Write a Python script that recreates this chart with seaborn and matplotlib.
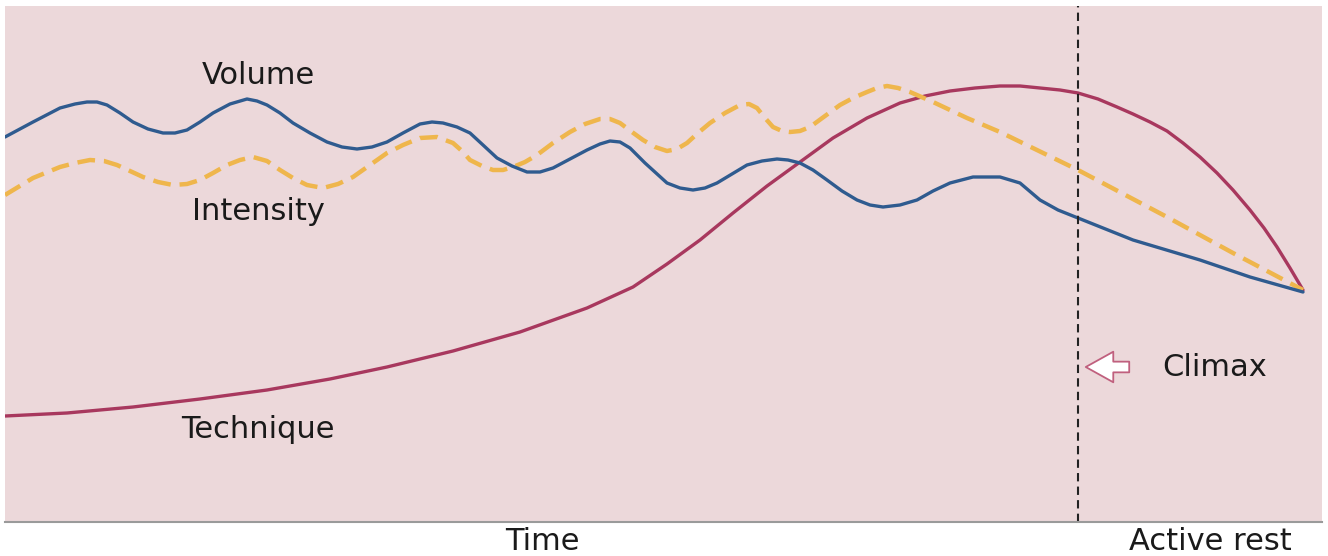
import pandas as pd
import matplotlib
matplotlib.use("Agg")
import matplotlib.pyplot as plt
import seaborn as sns

# --------------------------
# Curve values (time, level)
# --------------------------
vol_time = [5, 33, 60, 75, 87, 97, 107, 120, 133, 148, 163, 175, 187, 200, 213, 230,
            247, 257, 267, 280, 293, 310, 327, 342, 357, 372, 387, 403, 420, 432,
            443, 457, 470, 483, 497, 512, 527, 540, 553, 570, 587, 600, 610, 620,
            630, 645, 667, 680, 693, 705, 717, 732, 747, 762, 777, 788, 800, 813,
            827, 842, 857, 870, 883, 900, 917, 933, 950, 973, 1000, 1020, 1040,
            1058, 1078, 1133, 1200, 1250, 1303]
vol_level = [385, 400, 414, 418, 420, 420, 417, 409, 400, 393, 389, 389, 392, 400, 409, 418,
             423, 421, 417, 409, 399, 389, 380, 375, 373, 375, 380, 389, 398, 400,
             399, 395, 389, 377, 364, 356, 350, 350, 354, 363, 372, 378, 381, 380,
             374, 359, 339, 334, 332, 334, 339, 348, 357, 361, 363, 362, 359, 352,
             342, 331, 322, 317, 315, 317, 322, 331, 339, 345, 345, 339, 322,
             312, 304, 282, 262, 245, 230]

int_time = [5, 33, 60, 75, 90, 104, 117, 130, 143, 158, 173, 187, 200, 213, 227, 240,
            253, 267, 280, 293, 307, 323, 338, 353, 370, 387, 403, 420, 437, 453,
            462, 470, 482, 493, 503, 513, 525, 537, 553, 570, 585, 600, 610, 620,
            632, 643, 655, 667, 677, 687, 698, 710, 725, 740, 749, 757, 765, 773,
            782, 790, 800, 810, 825, 840, 853, 867, 877, 887, 898, 910, 933, 967,
            1000, 1078, 1167, 1233, 1303]
int_level = [327, 344, 355, 359, 362, 361, 357, 351, 345, 340, 337, 338, 342, 349, 357, 362,
             365, 361, 352, 344, 337, 334, 338, 345, 357, 369, 377, 384, 385, 379,
             371, 362, 356, 352, 352, 355, 360, 367, 379, 390, 398, 403, 403, 399,
             390, 382, 375, 371, 373, 379, 389, 399, 409, 417, 418, 414, 404, 395,
             391, 390, 391, 395, 406, 417, 424, 430, 434, 436, 434, 430, 420, 404,
             390, 352, 305, 269, 232]

tech_time = [5, 67, 133, 200, 267, 330, 387, 453, 520, 587, 633, 667, 700, 733, 767,
             800, 833, 867, 900, 925, 950, 975, 1000, 1020, 1040, 1060, 1078, 1098,
             1117, 1133, 1150, 1167, 1183, 1200, 1217, 1233, 1250, 1264, 1277, 1290,
             1303]
tech_level = [106, 109, 115, 123, 132, 143, 155, 171, 190, 214, 235, 258, 282, 309, 336,
              360, 384, 404, 419, 426, 431, 434, 436, 436, 434, 432, 429, 423,
              415, 408, 400, 391, 379, 365, 349, 332, 312, 294, 275, 254,
              232]

climax_time = 1078
labels = ["Volume", "Intensity", "Technique"]

# --------------------------
# Plot
# --------------------------
sns.set_style("white")
plt.rcParams['font.family'] = ['DejaVu Sans']

fig = plt.figure(figsize=(13.28, 5.56), dpi=100)
ax = fig.add_axes([5 / 1328, 34 / 556, 1317 / 1328, 516 / 556])
ax.set_facecolor("#ecd8da")

vol = pd.DataFrame({"time": vol_time, "level": vol_level})
inten = pd.DataFrame({"time": int_time, "level": int_level})
tech = pd.DataFrame({"time": tech_time, "level": tech_level})

line_kw = dict(solid_joinstyle="round", solid_capstyle="round")
sns.lineplot(data=tech, x="time", y="level", ax=ax, color="#a8385e", lw=2.4, **line_kw)
sns.lineplot(data=inten, x="time", y="level", ax=ax, color="#efb64c", lw=3.2,
             linestyle=(0, (4, 2)), dash_joinstyle="round")
sns.lineplot(data=vol, x="time", y="level", ax=ax, color="#2f5b8f", lw=2.4, **line_kw)

ax.axvline(climax_time, color="#222222", lw=1.5, linestyle=(0, (4, 2.5)))

ax.set_xlim(5, 1322)
ax.set_ylim(0, 516)
ax.set_xticks([])
ax.set_yticks([])
ax.set_xlabel("")
ax.set_ylabel("")
for s in ["top", "left", "right"]:
    ax.spines[s].set_visible(False)
ax.spines["bottom"].set_color("#9a9a9a")
ax.spines["bottom"].set_linewidth(1.5)

fs = 22
txt = "#1a1a1a"
ax.text(258, 447, labels[0], ha="center", va="center", fontsize=fs, color=txt)
ax.text(258, 310, labels[1], ha="center", va="center", fontsize=fs, color=txt)
ax.text(258, 92, labels[2], ha="center", va="center", fontsize=fs, color=txt)

# Climax arrow
ax.annotate("", xy=(1083, 155), xytext=(1132, 155),
            arrowprops=dict(arrowstyle="simple,head_width=1.0,head_length=0.9,tail_width=0.35",
                            mutation_scale=22, fc="white", ec="#c0607e", lw=1.3))
ax.text(1162, 155, "Climax", ha="left", va="center", fontsize=fs, color=txt)

ax.text(542, -20, "Time", ha="center", va="center", fontsize=fs, color=txt,
        clip_on=False)
ax.text(1210, -20, "Active rest", ha="center", va="center", fontsize=fs, color=txt,
        clip_on=False)

fig.savefig("out.png", dpi=100)
